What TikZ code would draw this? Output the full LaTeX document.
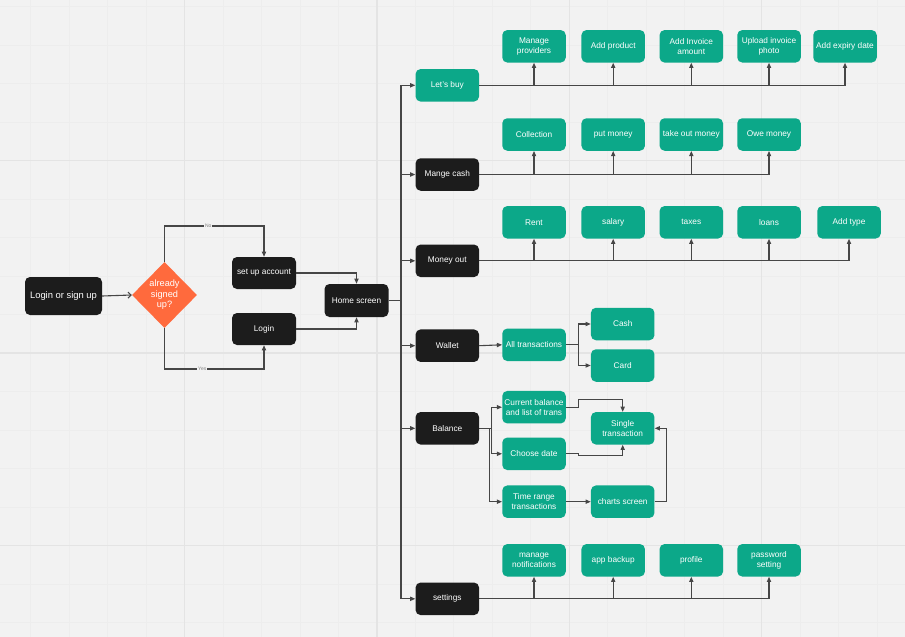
\documentclass[tikz,border=0pt]{standalone}
\usepackage{fontspec}
\setmainfont{Liberation Sans}
\usetikzlibrary{shapes.geometric,arrows.meta}
\definecolor{canvas}{RGB}{242,242,242}
\definecolor{gridminor}{RGB}{237,237,237}
\definecolor{gridmajor}{RGB}{228,228,228}
\definecolor{boxdark}{RGB}{28,28,28}
\definecolor{boxgreen}{RGB}{12,168,137}
\definecolor{decide}{RGB}{255,106,61}
\definecolor{linegrey}{RGB}{70,70,70}

\tikzset{
  darkbox/.style={fill=boxdark, text=white, rounded corners=5pt, minimum width=63.5pt, minimum height=32.5pt, inner sep=1pt, align=center, font=\fontsize{8.3}{10}\selectfont},
  greenbox/.style={darkbox, fill=boxgreen},
  decision/.style={diamond, fill=decide, text=white, minimum width=65pt, minimum height=66pt, inner sep=0pt, align=center, font=\fontsize{9.2}{10.4}\selectfont},
  wire/.style={draw=linegrey, line width=1.1pt},
  arrow/.style={wire, -{Triangle[length=5.2pt,width=4.2pt]}},
  tag/.style={fill=canvas, text=gray, inner sep=0.8pt, font=\fontsize{5}{5}\selectfont},
}

\begin{document}
\begin{tikzpicture}[x=1pt,y=-1pt]
\useasboundingbox (0,0) rectangle (905,637);
\fill[canvas] (0,0) rectangle (905,637);
\foreach \gx in {0,...,24} \draw[gridminor, line width=0.8pt] ({-7.9+38.48*\gx},0) -- ({-7.9+38.48*\gx},637);
\foreach \gy in {0,...,16} \draw[gridminor, line width=0.8pt] (0,{6.7+38.48*\gy}) -- (905,{6.7+38.48*\gy});
\foreach \gx in {1,...,4} \draw[gridmajor, line width=1.2pt] ({-7.9+192.4*\gx},0) -- ({-7.9+192.4*\gx},637);
\foreach \gy in {1,2,3} \draw[gridmajor, line width=1.2pt] (0,{-31.8+192.4*\gy}) -- (905,{-31.8+192.4*\gy});

\node[darkbox, minimum width=77pt, minimum height=38pt, font=\fontsize{9.4}{11}\selectfont] (start) at (63.5,296) {Login or sign up};
\node[decision] (signed) at (164.5,295) {already\\signed\\up?};
\node[darkbox, minimum width=64pt, minimum height=32pt] (setup) at (264,273) {set up account};
\node[darkbox, minimum width=64pt, minimum height=32pt] (login) at (264,329) {Login};
\node[darkbox, minimum width=64pt, minimum height=33pt] (home) at (356.5,300.5) {Home screen};
\coordinate (hub) at (401,300.5);
\coordinate (nobend) at (164.5,226);
\coordinate (yesbend) at (164.5,369);

\node[greenbox] (letsbuy) at (447.3,85.3) {Let's buy};
\node[darkbox] (mangecash) at (447.3,174.5) {Mange cash};
\node[darkbox] (moneyout) at (447.3,260.8) {Money out};
\node[darkbox] (wallet) at (447.3,345.7) {Wallet};
\node[darkbox] (balance) at (447.3,428.3) {Balance};
\node[darkbox] (settings) at (447.3,598.8) {settings};

\node[greenbox] (providers) at (534,46.3) {Manage\\providers};
\node[greenbox] (product) at (613.2,46.3) {Add product};
\node[greenbox] (amount) at (691.3,46.3) {Add Invoice\\amount};
\node[greenbox] (photo) at (769,46.3) {Upload invoice\\photo};
\node[greenbox] (expiry) at (845,46.3) {Add expiry date};

\node[greenbox] (collection) at (534,134.5) {Collection};
\node[greenbox] (putmoney) at (613.2,134.5) {put money};
\node[greenbox] (takemoney) at (691.3,134.5) {take out money};
\node[greenbox] (owe) at (769,134.5) {Owe money};

\node[greenbox] (rent) at (534,222.3) {Rent};
\node[greenbox] (salary) at (613.2,222.3) {salary};
\node[greenbox] (taxes) at (691.3,222.3) {taxes};
\node[greenbox] (loans) at (769,222.3) {loans};
\node[greenbox] (addtype) at (849,222.3) {Add type};

\node[greenbox] (alltrans) at (534,344.8) {All transactions};
\node[greenbox] (cashpay) at (622.7,324) {Cash};
\node[greenbox] (card) at (622.7,365.5) {Card};

\node[greenbox] (current) at (534,407.2) {Current balance\\and list of trans};
\node[greenbox] (choosedate) at (534,453.8) {Choose date};
\node[greenbox] (timerange) at (534,501.7) {Time range\\transactions};
\node[greenbox] (single) at (622.7,428.3) {Single\\transaction};
\node[greenbox] (charts) at (622.7,501.7) {charts screen};

\node[greenbox] (notif) at (534,560.3) {manage\\notifications};
\node[greenbox] (backup) at (613.2,560.3) {app backup};
\node[greenbox] (profile) at (691.3,560.3) {profile};
\node[greenbox] (password) at (769,560.3) {password\\setting};

\draw[wire, -{Straight Barb[length=3pt,width=6pt]}] (start.east) -- (signed.west);
\draw[arrow] (signed.north) -- (nobend) -| node[tag, pos=0.22] {No} (setup.north);
\draw[arrow] (signed.south) -- (yesbend) -| node[tag, pos=0.19] {Yes} (login.south);
\draw[arrow] (setup.east) -| (home.north);
\draw[arrow] (login.east) -| (home.south);
\draw[wire] (home.east) -- (hub);
\draw[arrow] (hub) |- (letsbuy.west);
\draw[arrow] (hub) |- (mangecash.west);
\draw[arrow] (hub) |- (moneyout.west);
\draw[arrow] (hub) |- (wallet.west);
\draw[arrow] (hub) |- (balance.west);
\draw[arrow] (hub) |- (settings.west);

\draw[arrow] (letsbuy.east) -| (expiry.south);
\draw[arrow] (providers.south |- letsbuy.east) -- (providers.south);
\draw[arrow] (product.south |- letsbuy.east) -- (product.south);
\draw[arrow] (amount.south |- letsbuy.east) -- (amount.south);
\draw[arrow] (photo.south |- letsbuy.east) -- (photo.south);

\draw[arrow] (mangecash.east) -| (owe.south);
\draw[arrow] (collection.south |- mangecash.east) -- (collection.south);
\draw[arrow] (putmoney.south |- mangecash.east) -- (putmoney.south);
\draw[arrow] (takemoney.south |- mangecash.east) -- (takemoney.south);

\draw[arrow] (moneyout.east) -| (addtype.south);
\draw[arrow] (rent.south |- moneyout.east) -- (rent.south);
\draw[arrow] (salary.south |- moneyout.east) -- (salary.south);
\draw[arrow] (taxes.south |- moneyout.east) -- (taxes.south);
\draw[arrow] (loans.south |- moneyout.east) -- (loans.south);

\draw[arrow] (wallet.east) -- (alltrans.west);
\draw[arrow] (alltrans.east) -- ++(12.6,0) |- (cashpay.west);
\draw[arrow] (alltrans.east) -- ++(12.6,0) |- (card.west);

\draw[arrow] (balance.east) -- ++(12,0) |- (current.west);
\draw[arrow] (balance.east) -- ++(12,0) |- (choosedate.west);
\draw[arrow] (balance.east) -- ++(10,0) |- (timerange.west);
\draw[arrow] (current.east) -- ++(12.6,0) -- ++(0,-8) -| (single.north);
\draw[arrow] (choosedate.east) -- ++(12.6,0) -- ++(0,2) -| (single.south);
\draw[arrow] (timerange.east) -- (charts.west);
\draw[arrow] (charts.east) -- ++(11.7,0) |- (single.east);

\draw[arrow] (settings.east) -| (password.south);
\draw[arrow] (notif.south |- settings.east) -- (notif.south);
\draw[arrow] (backup.south |- settings.east) -- (backup.south);
\draw[arrow] (profile.south |- settings.east) -- (profile.south);
\end{tikzpicture}
\end{document}
